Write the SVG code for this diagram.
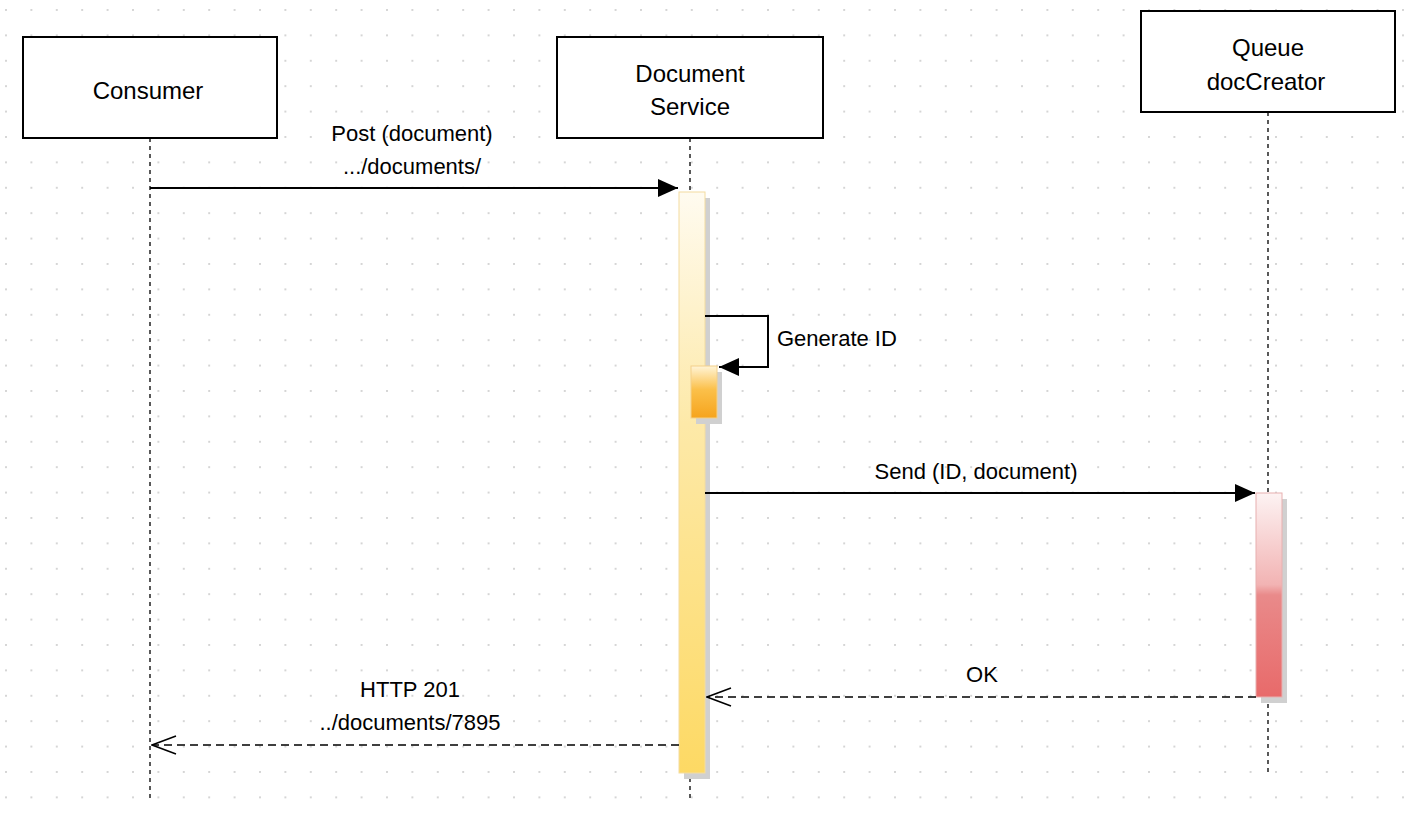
<svg xmlns="http://www.w3.org/2000/svg" width="1418" height="814" viewBox="0 0 1418 814">
<defs>
<pattern id="grid" x="5" y="9" width="25.4" height="25.4" patternUnits="userSpaceOnUse"><circle cx="1" cy="1" r="1" fill="#c8c8c8"/></pattern>
<linearGradient id="yel" x1="0" y1="0" x2="0" y2="1"><stop offset="0" stop-color="#fffbf0"/><stop offset="0.4" stop-color="#fde9a8"/><stop offset="1" stop-color="#fdd964"/></linearGradient>
<linearGradient id="org" x1="0" y1="0" x2="0" y2="1"><stop offset="0" stop-color="#fff4d6"/><stop offset="0.45" stop-color="#fbc04a"/><stop offset="1" stop-color="#f6a41d"/></linearGradient>
<linearGradient id="red" x1="0" y1="0" x2="0" y2="1"><stop offset="0" stop-color="#fdf3f3"/><stop offset="0.45" stop-color="#f2b3b3"/><stop offset="0.5" stop-color="#e98a8a"/><stop offset="1" stop-color="#e86a6a"/></linearGradient>
<marker id="fill" markerWidth="20" markerHeight="18" refX="20" refY="9" orient="auto" markerUnits="userSpaceOnUse" viewBox="0 0 20 18"><path d="M0,0 L20,9 L0,18 Z" fill="#000"/></marker>
<marker id="open" markerWidth="26" markerHeight="20" refX="25" refY="10" orient="auto" markerUnits="userSpaceOnUse" viewBox="0 0 26 20"><path d="M1,1 L25,10 L1,19" fill="none" stroke="#000" stroke-width="1.5"/></marker>
</defs>
<style>
.box{fill:#fff;stroke:#000;stroke-width:2}
.t{font-family:"Liberation Sans",Arial,sans-serif;font-size:24px;fill:#000;text-anchor:middle}
.l{font-family:"Liberation Sans",Arial,sans-serif;font-size:22px;fill:#000;text-anchor:middle}
.life{stroke:#000;stroke-width:1.3;stroke-dasharray:4,4}
.msg{stroke:#000;stroke-width:2;fill:none}
.ret{stroke:#000;stroke-width:1.5;stroke-dasharray:8,5;fill:none}
.sh{fill:#d0d0d0}
</style>
<rect width="1418" height="814" fill="#fff"/>
<rect width="1418" height="814" fill="url(#grid)"/>
<g id="connectors">
<line class="life" x1="150" y1="138" x2="150" y2="798"/>
<line class="life" x1="690" y1="138" x2="690" y2="798"/>
<line class="life" x1="1268" y1="112" x2="1268" y2="775"/>
</g>
<g id="consumer"><rect class="box" x="23" y="37" width="254" height="101"/><text class="t" x="148" y="99">Consumer</text></g>
<g id="docservice"><rect class="box" x="557" y="37" width="266" height="101"/><text class="t" x="690" y="82">Document</text><text class="t" x="690" y="115">Service</text></g>
<g id="queue"><rect class="box" x="1141" y="11" width="254" height="101"/><text class="t" x="1268" y="56">Queue</text><text class="t" x="1266" y="90">docCreator</text></g>
<g id="activations">
<rect class="sh" x="684" y="198" width="26" height="581"/>
<rect x="679" y="192" width="26" height="581" fill="url(#yel)" stroke="#f3dca0" stroke-width="1"/>
<rect class="sh" x="696" y="372" width="26" height="52"/>
<rect x="691" y="366" width="26" height="52" fill="url(#org)" stroke="#f3d08a" stroke-width="1"/>
<rect class="sh" x="1261" y="499" width="26" height="204"/>
<rect x="1256" y="493" width="26" height="204" fill="url(#red)" stroke="#e8b0b0" stroke-width="1"/>
</g>
<g id="messages">
<line class="msg" x1="150" y1="188" x2="678" y2="188" marker-end="url(#fill)"/>
<text class="l" x="412" y="141">Post (document)</text><text class="l" x="412" y="174">.../documents/</text>
<polyline class="msg" points="705,316 768,316 768,367 719,367" marker-end="url(#fill)"/>
<text class="l" x="777" y="346" style="text-anchor:start">Generate ID</text>
<line class="msg" x1="705" y1="493" x2="1255" y2="493" marker-end="url(#fill)"/>
<text class="l" x="976" y="479">Send (ID, document)</text>
<line class="ret" x1="1256" y1="697" x2="707" y2="697" marker-end="url(#open)"/>
<text class="l" x="982" y="682">OK</text>
<line class="ret" x1="679" y1="745" x2="152" y2="745" marker-end="url(#open)"/>
<text class="l" x="410" y="697">HTTP 201</text><text class="l" x="410" y="730">../documents/7895</text>
</g>
</svg>
